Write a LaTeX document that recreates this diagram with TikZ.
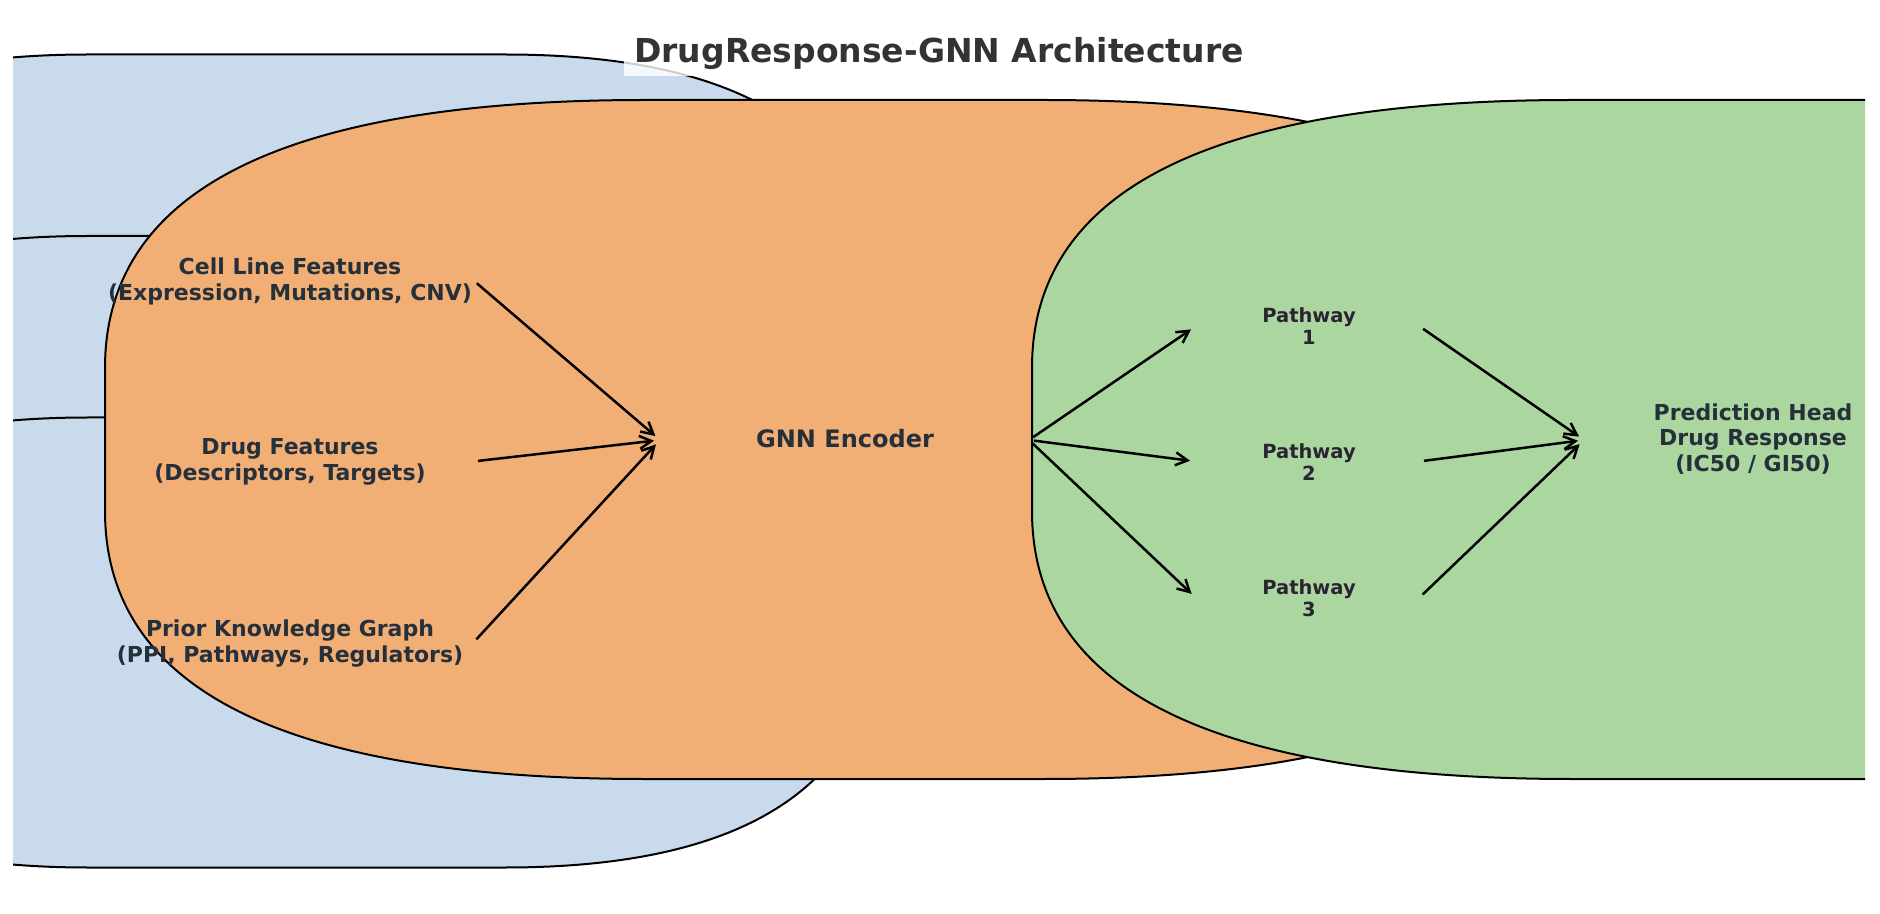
\documentclass[tikz,border=0pt]{standalone}
\usepackage{fontspec}
\setmainfont{DejaVu Sans}
\usetikzlibrary{arrows.meta}
\definecolor{blueb}{HTML}{C9DAEC}
\definecolor{orangeb}{HTML}{F1AF76}
\definecolor{greenb}{HTML}{ACD6A0}
\definecolor{txt}{HTML}{25303B}
\definecolor{pwtxt}{HTML}{2A2432}
\definecolor{ttl}{HTML}{333333}
% matplotlib-like round box: options, x0, top, x1, bottom, rx, ry
\newcommand{\mplbox}[7]{%
  \filldraw[#1] ({#2+#6},#3) -- ({#4-#6},#3)
    .. controls ({#4-#6/3},#3) and (#4,{#3+#7/3}) .. (#4,{#3+#7})
    -- (#4,{#5-#7})
    .. controls (#4,{#5-#7/3}) and ({#4-#6/3},#5) .. ({#4-#6},#5)
    -- ({#2+#6},#5)
    .. controls ({#2+#6/3},#5) and (#2,{#5-#7/3}) .. (#2,{#5-#7})
    -- (#2,{#3+#7})
    .. controls (#2,{#3+#7/3}) and ({#2+#6/3},#3) .. ({#2+#6},#3) -- cycle;}
\begin{document}
\begin{tikzpicture}[x=0.5pt,y=-0.5pt,
  boxline/.style={draw=black,line width=1pt,line join=round},
  inbox/.style={boxline,fill=blueb},
  encbox/.style={boxline,fill=orangeb},
  outbox/.style={boxline,fill=greenb},
  arr/.style={-{Straight Barb[length=6pt,width=6.5pt]},line width=1.25pt,
              shorten >=3pt,shorten <=2.5pt},
  lbl/.style={text=txt,font=\bfseries\fontsize{11}{13}\selectfont,align=center,inner sep=0pt},
  enclbl/.style={text=txt,font=\bfseries\fontsize{12}{14}\selectfont,align=center,inner sep=0pt},
  pwlbl/.style={text=pwtxt,font=\bfseries\fontsize{9.75}{10.75}\selectfont,align=center,inner sep=0pt},
  predlbl/.style={text=txt,font=\bfseries\fontsize{11}{12.75}\selectfont,align=center,inner sep=0pt},
  ttlbox/.style={text=ttl,font=\bfseries\fontsize{16.5}{19}\selectfont,fill=white,fill opacity=0.8,
                 text opacity=1,inner xsep=5pt,inner ysep=3pt}
]
\useasboundingbox (0,0) rectangle (1880,914);
\begin{scope}
  \clip (13,0) rectangle (1865,914);
  \mplbox{inbox}{-290}{54.5}{883}{504.5}{378}{268}
  \mplbox{inbox}{-290}{236}{883}{686}{378}{268}
  \mplbox{inbox}{-290}{417.5}{883}{867.5}{378}{268}
  \mplbox{encbox}{105}{100}{1583}{779}{540}{268}
  \mplbox{outbox}{1032}{100}{2510}{779}{540}{268}
\end{scope}

\node[ttlbox] (title) at (939,54) {DrugResponse-GNN Architecture};

\node[lbl] (cell) at (290,281) {Cell Line Features\\(Expression, Mutations, CNV)};
\node[lbl] (drug) at (290,462) {Drug Features\\(Descriptors, Targets)};
\node[lbl] (prior) at (290,644) {Prior Knowledge Graph\\(PPI, Pathways, Regulators)};
\node[enclbl] (gnn) at (845,439) {GNN Encoder};
\node[pwlbl] (pw1) at (1309,326) {Pathway\\1};
\node[pwlbl] (pw2) at (1309,462) {Pathway\\2};
\node[pwlbl] (pw3) at (1309,598) {Pathway\\3};
\node[predlbl] (pred) at (1753,439) {Prediction Head\\Drug Response\\(IC50 / GI50)};

\coordinate (cellout) at (473,280);
\coordinate (drugout) at (473,461.5);
\coordinate (priorout) at (473,643);
\coordinate (gnnin) at (660,440);
\coordinate (gnnout) at (1029,440);
\coordinate (pw1in) at (1196,326);
\coordinate (pw2in) at (1196,461.5);
\coordinate (pw3in) at (1196,598);
\coordinate (pw1out) at (1419,326);
\coordinate (pw2out) at (1419,461.5);
\coordinate (pw3out) at (1419,598);
\coordinate (predin) at (1584,440);

\draw[arr] (cellout) -- (gnnin);
\draw[arr] (drugout) -- (gnnin);
\draw[arr] (priorout) -- (gnnin);
\draw[arr] (gnnout) -- (pw1in);
\draw[arr] (gnnout) -- (pw2in);
\draw[arr] (gnnout) -- (pw3in);
\draw[arr] (pw1out) -- (predin);
\draw[arr] (pw2out) -- (predin);
\draw[arr] (pw3out) -- (predin);
\end{tikzpicture}
\end{document}
